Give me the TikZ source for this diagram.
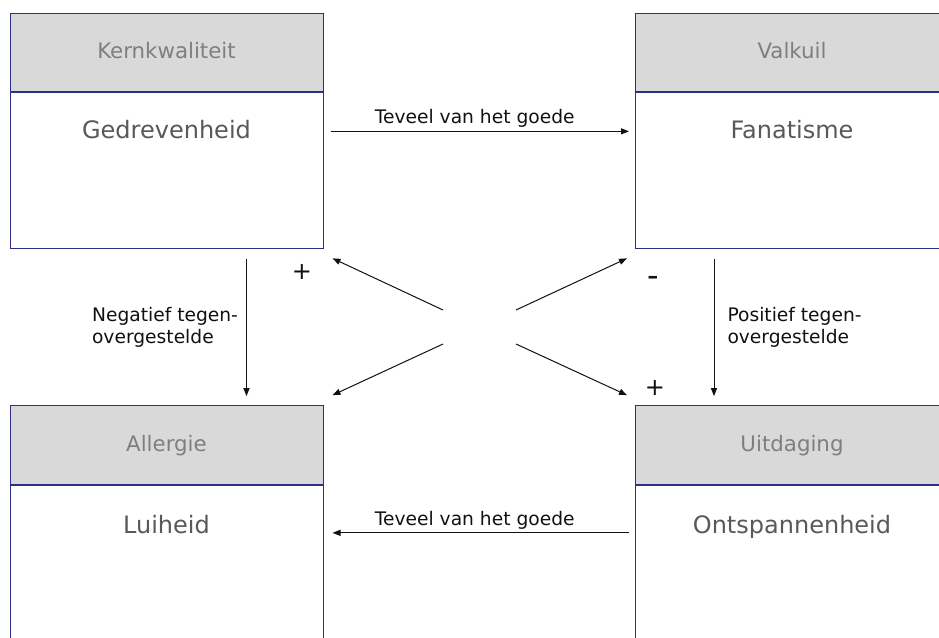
\documentclass[tikz,border=0pt]{standalone}
\usepackage{fontspec}
\setmainfont{DejaVu Sans}
\usetikzlibrary{arrows.meta,positioning}
\definecolor{box-line}{HTML}{2E2E86}
\definecolor{head-fill}{HTML}{D9D9D9}
\definecolor{head-text}{HTML}{7F7F7F}
\definecolor{body-text}{HTML}{595959}
\definecolor{jet}{HTML}{111111}

\begin{document}
\begin{tikzpicture}[x=0.75pt, y=-0.75pt,
  headbox/.style={draw=box-line, line width=0.75pt, fill=head-fill, minimum width=234.75pt, minimum height=59pt, text height=0.95em, text depth=0.05em, text=head-text, font=\fontsize{16}{19}\selectfont},
  bodybox/.style={draw=box-line, line width=0.75pt, fill=white, minimum width=234.75pt, minimum height=117pt, anchor=north},
  bodytext/.style={text=body-text, font=\fontsize{18}{22}\selectfont, anchor=base, inner sep=0pt},
  arr/.style={-{Triangle[length=6pt,width=4.5pt]}, line width=0.75pt, color=jet},
  lbl/.style={font=\fontsize{14}{16.5}\selectfont, color=jet, align=left},
  sign/.style={font=\fontsize{18}{22}\selectfont, color=jet}]
  \clip (0,0) rectangle (939,637);

  % quadrant boxes
  \node[headbox] (kwh) at (166.5,52.5) {Kernkwaliteit};
  \node[bodybox] (kwb) at (kwh.south) {};
  \node[bodytext] (kwt) at ([yshift=-34.5pt]kwh.south) {Gedrevenheid};

  \node[headbox] (vkh) at (792,52.5) {Valkuil};
  \node[bodybox] (vkb) at (vkh.south) {};
  \node[bodytext] (vkt) at ([yshift=-34.5pt]vkh.south) {Fanatisme};

  \node[headbox] (alh) at (166.5,445) {Allergie};
  \node[bodybox] (alb) at (alh.south) {};
  \node[bodytext] (alt) at ([yshift=-36.75pt]alh.south) {Luiheid};

  \node[headbox] (uth) at (792,445) {Uitdaging};
  \node[bodybox] (utb) at (uth.south) {};
  \node[bodytext] (utt) at ([yshift=-36.75pt]uth.south) {Ontspannenheid};

  % horizontal and vertical arrows
  \draw[arr] ([shift={(7,39)}]kwh.south east) -- node[lbl, above, inner sep=2.5pt, xshift=-3.75pt] {Teveel van het goede} ([shift={(-6,39)}]vkh.south west);
  \draw[arr] ([shift={(-6,48)}]uth.south west) -- node[lbl, above, inner sep=2.5pt, xshift=-4.5pt] {Teveel van het goede} ([shift={(9,48)}]alh.south east);
  \draw[arr] ([shift={(-77,10)}]kwb.south east) -- node[lbl, left, inner sep=6pt] {Negatief tegen-\\overgestelde} ([shift={(-77,-9)}]alh.north east);
  \draw[arr] ([shift={(79,10)}]vkb.south west) -- node[lbl, right, inner sep=9.75pt] {Positief tegen-\\overgestelde} ([shift={(79,-9)}]uth.north west);

  % diagonals
  \coordinate (mid) at (479.5,327);
  \draw[arr] ([shift={(-36.5,-17)}]mid) -- ([shift={(9,9)}]kwb.south east);
  \draw[arr] ([shift={(36.5,-17)}]mid) -- ([shift={(-8,9)}]vkb.south west);
  \draw[arr] ([shift={(-36.5,17)}]mid) -- ([shift={(9,-10)}]alh.north east);
  \draw[arr] ([shift={(36.5,17)}]mid) -- ([shift={(-8,-10)}]uth.north west);

  \node[sign] (plusa) at (302,272) {+};
  \node[sign, font=\fontsize{24}{28}\selectfont] (minus) at (653,281) {-};
  \node[sign] (plusb) at (655,388) {+};
\end{tikzpicture}
\end{document}
